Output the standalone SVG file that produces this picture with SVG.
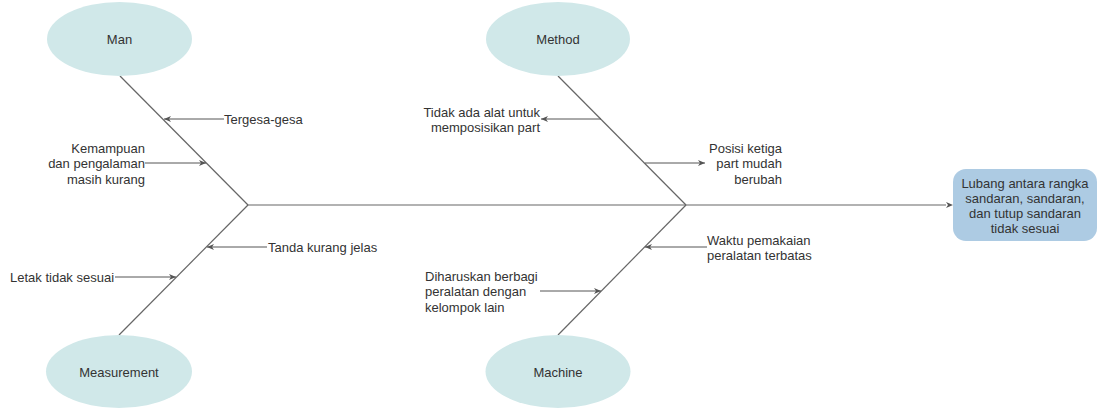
<svg xmlns="http://www.w3.org/2000/svg" width="1100" height="409" viewBox="0 0 1100 409">
<style>
.cat{fill:#d0e8e9;stroke:none}
.lbl{font-family:"Liberation Sans",Arial,sans-serif;font-size:13px;fill:#333333}
.c{text-anchor:middle}
.e{text-anchor:end}
.bone{stroke:#666666;stroke-width:1.2;fill:none}
.arr{stroke:#555555;stroke-width:1;fill:none;marker-end:url(#ah)}
</style>
<defs>
<marker id="ah" markerUnits="userSpaceOnUse" markerWidth="8" markerHeight="8" refX="7" refY="4" orient="auto">
<path d="M0,1 L7,4 L0,7 L2,4 z" fill="#555555"/>
</marker>
</defs>
<rect width="1100" height="409" fill="#ffffff"/>
<g id="connectors">
<line class="bone" x1="248" y1="205" x2="946" y2="205"/>
<path d="M946,202 L953,205 L946,208 L948,205 z" fill="#555555"/>
<line class="bone" x1="120" y1="76" x2="248" y2="205"/>
<line class="bone" x1="119" y1="335" x2="248" y2="205"/>
<line class="bone" x1="558" y1="76" x2="686" y2="205"/>
<line class="bone" x1="558" y1="335" x2="686" y2="205"/>
<line class="arr" x1="224" y1="119" x2="164" y2="119"/>
<line class="arr" x1="145" y1="163" x2="206" y2="163"/>
<line class="arr" x1="601" y1="119" x2="541" y2="119"/>
<line class="arr" x1="645" y1="163" x2="705" y2="163"/>
<line class="arr" x1="267" y1="247" x2="207" y2="247"/>
<line class="arr" x1="115" y1="277" x2="176" y2="277"/>
<line class="arr" x1="707" y1="247" x2="645" y2="247"/>
<line class="arr" x1="540" y1="291" x2="601" y2="291"/>
</g>
<g id="man">
<ellipse class="cat" cx="119.5" cy="39" rx="72.5" ry="37"/>
<text class="lbl c" x="119.5" y="43.5">Man</text>
</g>
<g id="method">
<ellipse class="cat" cx="558" cy="39" rx="72" ry="37"/>
<text class="lbl c" x="558" y="43.5">Method</text>
</g>
<g id="measurement">
<ellipse class="cat" cx="119" cy="371.5" rx="73" ry="36.5"/>
<text class="lbl c" x="119" y="376.5">Measurement</text>
</g>
<g id="machine">
<ellipse class="cat" cx="558" cy="371.5" rx="72.5" ry="36.5"/>
<text class="lbl c" x="558" y="376.5">Machine</text>
</g>
<g id="effect">
<rect x="953" y="169" width="144" height="72" rx="13" ry="13" fill="#adcbe3"/>
<text class="lbl c" x="1025" y="188">Lubang antara rangka</text>
<text class="lbl c" x="1025" y="203">sandaran, sandaran,</text>
<text class="lbl c" x="1025" y="218">dan tutup sandaran</text>
<text class="lbl c" x="1025" y="233">tidak sesuai</text>
</g>
<g id="cause-tergesa">
<text class="lbl" x="224" y="123.5">Tergesa-gesa</text>
</g>
<g id="cause-kemampuan">
<text class="lbl e" x="145" y="152.5">Kemampuan</text>
<text class="lbl e" x="145" y="168">dan pengalaman</text>
<text class="lbl e" x="145" y="183.5">masih kurang</text>
</g>
<g id="cause-alat">
<text class="lbl e" x="540" y="116.5">Tidak ada alat untuk</text>
<text class="lbl e" x="540" y="131.5">memposisikan part</text>
</g>
<g id="cause-posisi">
<text class="lbl e" x="782" y="152.5">Posisi ketiga</text>
<text class="lbl e" x="782" y="168">part mudah</text>
<text class="lbl e" x="782" y="183.5">berubah</text>
</g>
<g id="cause-tanda">
<text class="lbl" x="268" y="251.5">Tanda kurang jelas</text>
</g>
<g id="cause-letak">
<text class="lbl" x="10" y="281.5">Letak tidak sesuai</text>
</g>
<g id="cause-waktu">
<text class="lbl" x="707" y="245">Waktu pemakaian</text>
<text class="lbl" x="707" y="260">peralatan terbatas</text>
</g>
<g id="cause-berbagi">
<text class="lbl" x="425" y="280.5">Diharuskan berbagi</text>
<text class="lbl" x="425" y="296">peralatan dengan</text>
<text class="lbl" x="425" y="311.5">kelompok lain</text>
</g>
</svg>
